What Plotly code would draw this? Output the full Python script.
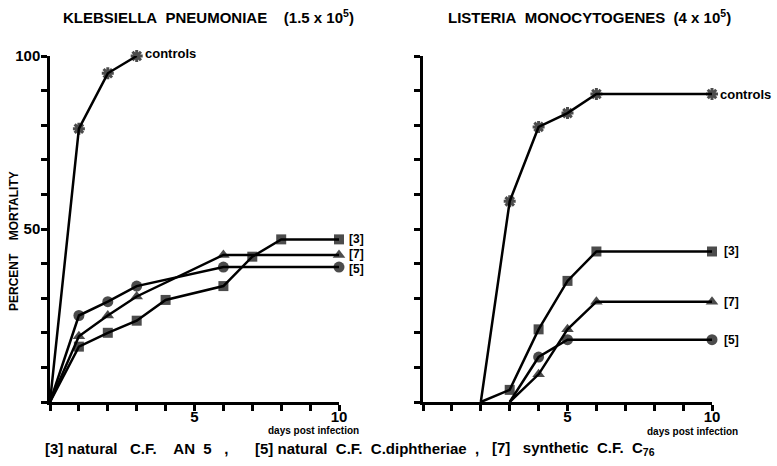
import plotly.graph_objects as go

# ---------------- data ----------------
# Klebsiella pneumoniae (left panel)
kp_days_controls = [0, 1, 2, 3]
kp_controls = [0, 79, 95, 100]
kp_days_3 = [0, 1, 2, 3, 4, 6, 7, 8, 10]
kp_3 = [0, 16, 20, 23.5, 29.5, 33.5, 42, 47, 47]
kp_days_7 = [0, 1, 2, 3, 6, 10]
kp_7 = [0, 19, 25, 30.5, 42.5, 42.5]
kp_days_5 = [0, 1, 2, 3, 6, 10]
kp_5 = [0, 25, 29, 33.5, 39, 39]

# Listeria monocytogenes (right panel)
lm_days_controls = [2, 3, 4, 5, 6, 10]
lm_controls = [0, 58, 79.5, 83.5, 89, 89]
lm_days_3 = [2, 3, 4, 5, 6, 10]
lm_3 = [0, 3.5, 21, 35, 43.5, 43.5]
lm_days_7 = [3, 4, 5, 6, 10]
lm_7 = [0, 8, 21, 29, 29]
lm_days_5 = [3, 4, 5, 10]
lm_5 = [0, 13, 18, 18]

x_ticks = list(range(0, 11))
x_ticktext = ["", "", "", "", "", "5", "", "", "", "", "10"]
y_ticks = list(range(0, 101, 10))
y_ticktext_left = ["", "", "", "", "", "50", "", "", "", "", "100"]

title_left = "KLEBSIELLA\u00a0\u00a0PNEUMONIAE\u00a0\u00a0\u00a0\u00a0(1.5\u00a0x\u00a010<sup>5</sup>)"
title_right = "LISTERIA\u00a0\u00a0MONOCYTOGENES\u00a0\u00a0(4\u00a0x\u00a010<sup>5</sup>)"
foot_3 = "[3]\u00a0natural\u00a0\u00a0\u00a0C.F.\u00a0\u00a0\u00a0\u00a0AN\u00a0\u00a05\u00a0\u00a0\u00a0,"
foot_5 = "[5]\u00a0natural\u00a0\u00a0C.F.\u00a0\u00a0C.diphtheriae\u00a0\u00a0,"
foot_7 = "[7]\u00a0\u00a0\u00a0synthetic\u00a0\u00a0C.F.\u00a0\u00a0C<sub>76</sub>"

FONT = "Liberation Sans, Arial, sans-serif"

fig = go.Figure()

def add_series(days, vals, symbol, size, xa, ya, first_hidden=True):
    sizes = [size] * len(days)
    if first_hidden:
        sizes[0] = 0
    lw = 3 if symbol == "asterisk-open" else 0
    fig.add_trace(go.Scatter(
        x=days, y=vals, mode="lines+markers",
        line=dict(color="black", width=2.5),
        marker=dict(symbol=symbol, size=sizes, color="black",
                    line=dict(color="black", width=lw)),
        xaxis=xa, yaxis=ya, cliponaxis=False, showlegend=False))

add_series(kp_days_controls, kp_controls, "asterisk-open", 10, "x", "y")
add_series(kp_days_3, kp_3, "square", 10, "x", "y")
add_series(kp_days_7, kp_7, "triangle-up", 11, "x", "y")
add_series(kp_days_5, kp_5, "circle", 11, "x", "y")

add_series(lm_days_controls, lm_controls, "asterisk-open", 10, "x2", "y2")
add_series(lm_days_3, lm_3, "square", 10, "x2", "y2")
add_series(lm_days_7, lm_7, "triangle-up", 11, "x2", "y2")
add_series(lm_days_5, lm_5, "circle", 11, "x2", "y2")

axis_common = dict(showline=True, linecolor="black", linewidth=2.5, showgrid=False,
                   zeroline=False, ticks="outside", ticklen=6, tickwidth=2.5,
                   tickcolor="black", automargin=False,
                   tickfont=dict(family=FONT, size=15, color="black", weight="bold"))

ybot = (466 - 402) / 466
ytop = (466 - 56) / 466

fig.update_layout(
    width=777, height=466,
    margin=dict(l=0, r=0, t=0, b=0, pad=0, autoexpand=False),
    paper_bgcolor="white", plot_bgcolor="white",
    xaxis=dict(domain=[50 / 777, 339 / 777], range=[0, 10], tickvals=x_ticks,
               ticktext=x_ticktext, anchor="y", ticklabelstandoff=-7, **axis_common),
    yaxis=dict(domain=[ybot, ytop], range=[0, 100], tickvals=y_ticks,
               ticktext=y_ticktext_left, anchor="x", ticklabelstandoff=-2, **axis_common),
    xaxis2=dict(domain=[423 / 777, 712 / 777], range=[0, 10], tickvals=x_ticks,
                ticktext=x_ticktext, anchor="y2", ticklabelstandoff=-7, **axis_common),
    yaxis2=dict(domain=[ybot, ytop], range=[0, 100], tickvals=[50, 100],
                ticktext=["", ""], anchor="x2",
                minor=dict(tickvals=y_ticks, ticks="outside", ticklen=6,
                           tickwidth=2.5, tickcolor="black"),
                **{**axis_common, "tickwidth": 5, "ticklen": 7}),
)

def ann(text, x, y, xref, yref, size, xanchor="center", yanchor="middle",
        xshift=0, yshift=0, angle=0):
    fig.add_annotation(text=text, x=x, y=y, xref=xref, yref=yref, showarrow=False,
                       xanchor=xanchor, yanchor=yanchor, xshift=xshift, yshift=yshift,
                       textangle=angle,
                       font=dict(family=FONT, size=size, color="black", weight="bold"))

# titles
ann(title_left, 209 / 777, 1 - 17 / 466, "paper", "paper", 15)
ann(title_right, 589 / 777, 1 - 17 / 466, "paper", "paper", 15)

# y axis title
ann("PERCENT\u00a0\u00a0\u00a0\u00a0MORTALITY", 14 / 777, 1 - 241 / 466, "paper", "paper", 12, angle=-90)

# x axis captions
ann("days\u00a0post\u00a0infection", 313 / 777, 1 - 430 / 466, "paper", "paper", 10)
ann("days\u00a0post\u00a0infection", 692 / 777, 1 - 431 / 466, "paper", "paper", 10)

# series labels, left panel
ann("controls", kp_days_controls[-1], kp_controls[-1], "x", "y", 13, xanchor="left", xshift=6, yshift=2)
ann("[3]", kp_days_3[-1], kp_3[-1], "x", "y", 12, xanchor="left", xshift=8)
ann("[7]", kp_days_7[-1], kp_7[-1], "x", "y", 12, xanchor="left", xshift=8, yshift=1)
ann("[5]", kp_days_5[-1], kp_5[-1], "x", "y", 12, xanchor="left", xshift=8, yshift=-2)

# series labels, right panel
ann("controls", lm_days_controls[-1], lm_controls[-1], "x2", "y2", 13, xanchor="left", xshift=6)
ann("[3]", lm_days_3[-1], lm_3[-1], "x2", "y2", 12, xanchor="left", xshift=10)
ann("[7]", lm_days_7[-1], lm_7[-1], "x2", "y2", 12, xanchor="left", xshift=10)
ann("[5]", lm_days_5[-1], lm_5[-1], "x2", "y2", 12, xanchor="left", xshift=10)

# footnote
ann(foot_3, 43 / 777, 1 - 448 / 466, "paper", "paper", 15, xanchor="left")
ann(foot_5, 253 / 777, 1 - 448 / 466, "paper", "paper", 15, xanchor="left")
ann(foot_7, 490 / 777, 1 - 448 / 466, "paper", "paper", 15, xanchor="left")

fig.write_html("out.html", config={"displayModeBar": False},
               post_script="document.body.style.margin='0px';")
